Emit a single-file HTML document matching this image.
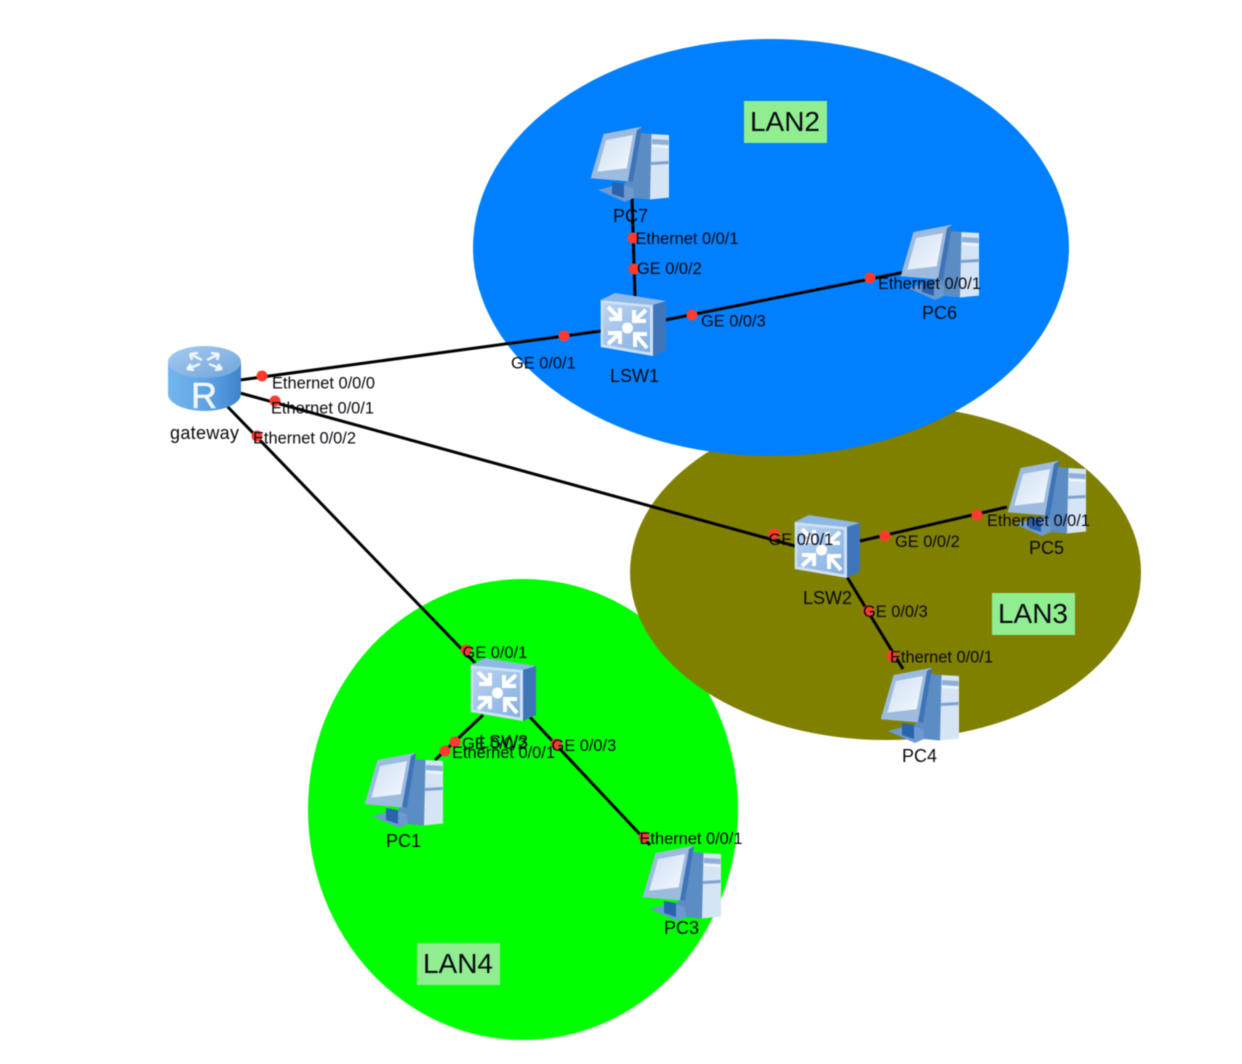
<!DOCTYPE html>
<html>
<head>
<meta charset="utf-8">
<style>
html,body{margin:0;padding:0;background:#fff;width:1242px;height:1064px;overflow:hidden}
svg{display:block;filter:blur(.45px)}
text{font-family:"Liberation Sans",sans-serif;fill:#080810}
.p{font-size:16.4px}
.n{font-size:18px}
.l{font-size:28px}
line{stroke:#000;stroke-width:3}
.d{fill:#ff3b30}
.b{fill:#90ee90}
</style>
</head>
<body>
<svg width="1242" height="1064" viewBox="0 0 1242 1064" xmlns="http://www.w3.org/2000/svg">
<defs>
<linearGradient id="rs" x1="0" x2="1" y1="0" y2="0">
<stop offset="0" stop-color="#74b6ee"/><stop offset=".6" stop-color="#5a9fe2"/><stop offset="1" stop-color="#3f84cc"/>
</linearGradient>
<linearGradient id="rt" x1="0" x2="1" y1="0" y2="1">
<stop offset="0" stop-color="#a8ccf0"/><stop offset="1" stop-color="#6fa4dc"/>
</linearGradient>
<linearGradient id="sf" x1="0" x2="1" y1="0" y2="1">
<stop offset="0" stop-color="#bcd6f2"/><stop offset="1" stop-color="#84aee0"/>
</linearGradient>
<linearGradient id="ms" x1="0" x2="1" y1="0" y2="1">
<stop offset="0" stop-color="#cfe0f4"/><stop offset="1" stop-color="#f4f8fd"/>
</linearGradient>
<g id="pc">
<polygon points="51,7 62,8 60,73.500 44,72 28,64 42,50" fill="#5b8cc4"/>
<polygon points="61.500,8 79,9 79,71.500 60,73.500" fill="#d6e5f6"/>
<polygon points="62,13 78.500,14 78.500,19 62,18" fill="#8fb0d6"/>
<polygon points="62,19 78.500,20 78.500,22 62,21" fill="#f2f7fd"/>
<polygon points="61,36 78.500,35 78.500,38 61,39" fill="#7ea3cf"/>
<polygon points="8,64 30,58 43,62 44,72 35,76" fill="#6c99cf"/>
<polygon points="22,56 34,58 34,72 22,68" fill="#2a63ad"/>
<polygon points="13.500,8 51.700,.7 43,55.700 .7,52.300" fill="#9dbbde"/>
<polygon points="47,4 52,1 43,56 38,55" fill="#3f74b8"/>
<polygon points="16,14 43,9 36.700,42.300 7.300,45.700" fill="url(#ms)"/>
</g>
<g id="sw">
<polygon points=".7,8 53,13 53,64 .7,55" fill="#cfe1f6"/>
<polygon points="3,11 50,15.500 50,60.500 3,52.500" fill="url(#sf)"/>
<polygon points=".7,8 15,1 66,9 53,13" fill="#8fb8e6"/>
<polygon points="53,13 66,9 66,58 53,64" fill="#3f76b9"/>
<circle cx="27.500" cy="36" r="5.500" fill="#fff"/>
<g stroke="#fff" stroke-width="4" fill="none">
<path d="M8,15 L20,27 M9,27 H20 V16"/>
<path d="M46,18 L34,29 M34,18 V29 H46"/>
<path d="M20,41 L8,52 M8,41 H20 V52"/>
<path d="M35,42 L47,56 M35,55 V42 H47"/>
</g>
</g>
</defs>

<ellipse cx="523" cy="809.500" rx="215" ry="230.500" fill="#00ff00"/>
<ellipse cx="885.500" cy="572.500" rx="255.500" ry="167.500" fill="#808000"/>
<ellipse cx="771" cy="247.500" rx="298" ry="208.500" fill="#0080ff"/>

<rect class="b" x="744" y="101" width="83" height="42"/>
<rect class="b" x="992" y="593" width="83" height="42"/>
<rect class="b" x="417" y="943" width="83" height="42"/>

<line x1="240" y1="380" x2="601" y2="331"/>
<line x1="240" y1="393" x2="795" y2="546"/>
<line x1="226" y1="405" x2="478" y2="666"/>
<line x1="632" y1="198" x2="635" y2="296"/>
<line x1="665" y1="320" x2="905" y2="272"/>
<line x1="860" y1="541" x2="1007" y2="507"/>
<line x1="847" y1="577" x2="903" y2="669"/>
<line x1="483" y1="715" x2="435" y2="760"/>
<line x1="528" y1="715" x2="650" y2="845"/>

<!-- router -->
<g>
<path d="M168,362 V394 C168,404 186,411 204.500,411 C223,411 241,404 241,394 V362 Z" fill="url(#rs)"/>
<ellipse cx="204.500" cy="362" rx="36.500" ry="16" fill="url(#rt)"/>
<g stroke="#f0f6fd" stroke-width="2.500" fill="none">
<path d="M190,354 L202,360 M190,354 l8,-1 M190,354 l2,6"/>
<path d="M219,354 L207,360 M219,354 l-8,-1 M219,354 l-2,6"/>
<path d="M187,369 L200,364 M187,369 l7,1 M187,369 l4,-5"/>
<path d="M222,369 L209,364 M222,369 l-7,1 M222,369 l-4,-5"/>
</g>
<text x="191" y="408" style="font-size:36px;fill:#f2f7fd;stroke:#f2f7fd;stroke-width:.6">R</text>
</g>

<use href="#pc" x="590" y="126"/>
<use href="#pc" x="900" y="224"/>
<use href="#pc" x="1007" y="460"/>
<use href="#pc" x="880" y="667"/>
<use href="#pc" x="364" y="752"/>
<use href="#pc" x="642" y="845"/>
<use href="#sw" x="600" y="292"/>
<use href="#sw" x="794" y="514"/>
<use href="#sw" x="470" y="657"/>

<g class="d">
<circle cx="262" cy="376" r="5.500"/><circle cx="275" cy="401" r="5.500"/><circle cx="257" cy="436" r="5.500"/>
<circle cx="564" cy="336" r="5.500"/><circle cx="633" cy="238" r="5.500"/><circle cx="634" cy="269" r="5.500"/>
<circle cx="692" cy="315" r="5.500"/><circle cx="870" cy="278" r="5.500"/>
<circle cx="774" cy="534" r="5.500"/><circle cx="885" cy="536" r="5.500"/><circle cx="977" cy="515" r="5.500"/>
<circle cx="868" cy="611" r="5.500"/><circle cx="892" cy="656" r="5.500"/>
<circle cx="466" cy="650" r="5.500"/><circle cx="455" cy="742" r="5.500"/><circle cx="445" cy="751" r="5.500"/>
<circle cx="556" cy="744" r="5.500"/><circle cx="644" cy="837" r="5.500"/>
</g>

<text class="l" x="750" y="131" textLength="70">LAN2</text>
<text class="l" x="998" y="623" textLength="70">LAN3</text>
<text class="l" x="423" y="973" textLength="70">LAN4</text>

<text class="n" x="170" y="439" textLength="69">gateway</text>
<text class="n" x="613" y="222">PC7</text>
<text class="n" x="922" y="319">PC6</text>
<text class="n" x="610" y="382">LSW1</text>
<text class="n" x="1029" y="554">PC5</text>
<text class="n" x="803" y="604">LSW2</text>
<text class="n" x="902" y="762">PC4</text>
<text class="n" x="479" y="748">LSW3</text>
<text class="n" x="386" y="847">PC1</text>
<text class="n" x="664" y="934">PC3</text>

<text class="p" x="272" y="388.500">Ethernet 0/0/0</text>
<text class="p" x="271" y="413.500">Ethernet 0/0/1</text>
<text class="p" x="253" y="443.500">Ethernet 0/0/2</text>
<text class="p" x="511" y="368.500">GE 0/0/1</text>
<text class="p" x="635.500" y="244">Ethernet 0/0/1</text>
<text class="p" x="637" y="274">GE 0/0/2</text>
<text class="p" x="701" y="326.500">GE 0/0/3</text>
<text class="p" x="878" y="289">Ethernet 0/0/1</text>
<text class="p" x="768.500" y="545">GE 0/0/1</text>
<text class="p" x="895" y="547">GE 0/0/2</text>
<text class="p" x="987" y="526">Ethernet 0/0/1</text>
<text class="p" x="863" y="617">GE 0/0/3</text>
<text class="p" x="890" y="662.500">Ethernet 0/0/1</text>
<text class="p" x="462.500" y="658">GE 0/0/1</text>
<text class="p" x="462" y="749">GE 0/0/2</text>
<text class="p" x="452" y="758">Ethernet 0/0/1</text>
<text class="p" x="551.500" y="751">GE 0/0/3</text>
<text class="p" x="639.500" y="844">Ethernet 0/0/1</text>
</svg>
</body>
</html>
